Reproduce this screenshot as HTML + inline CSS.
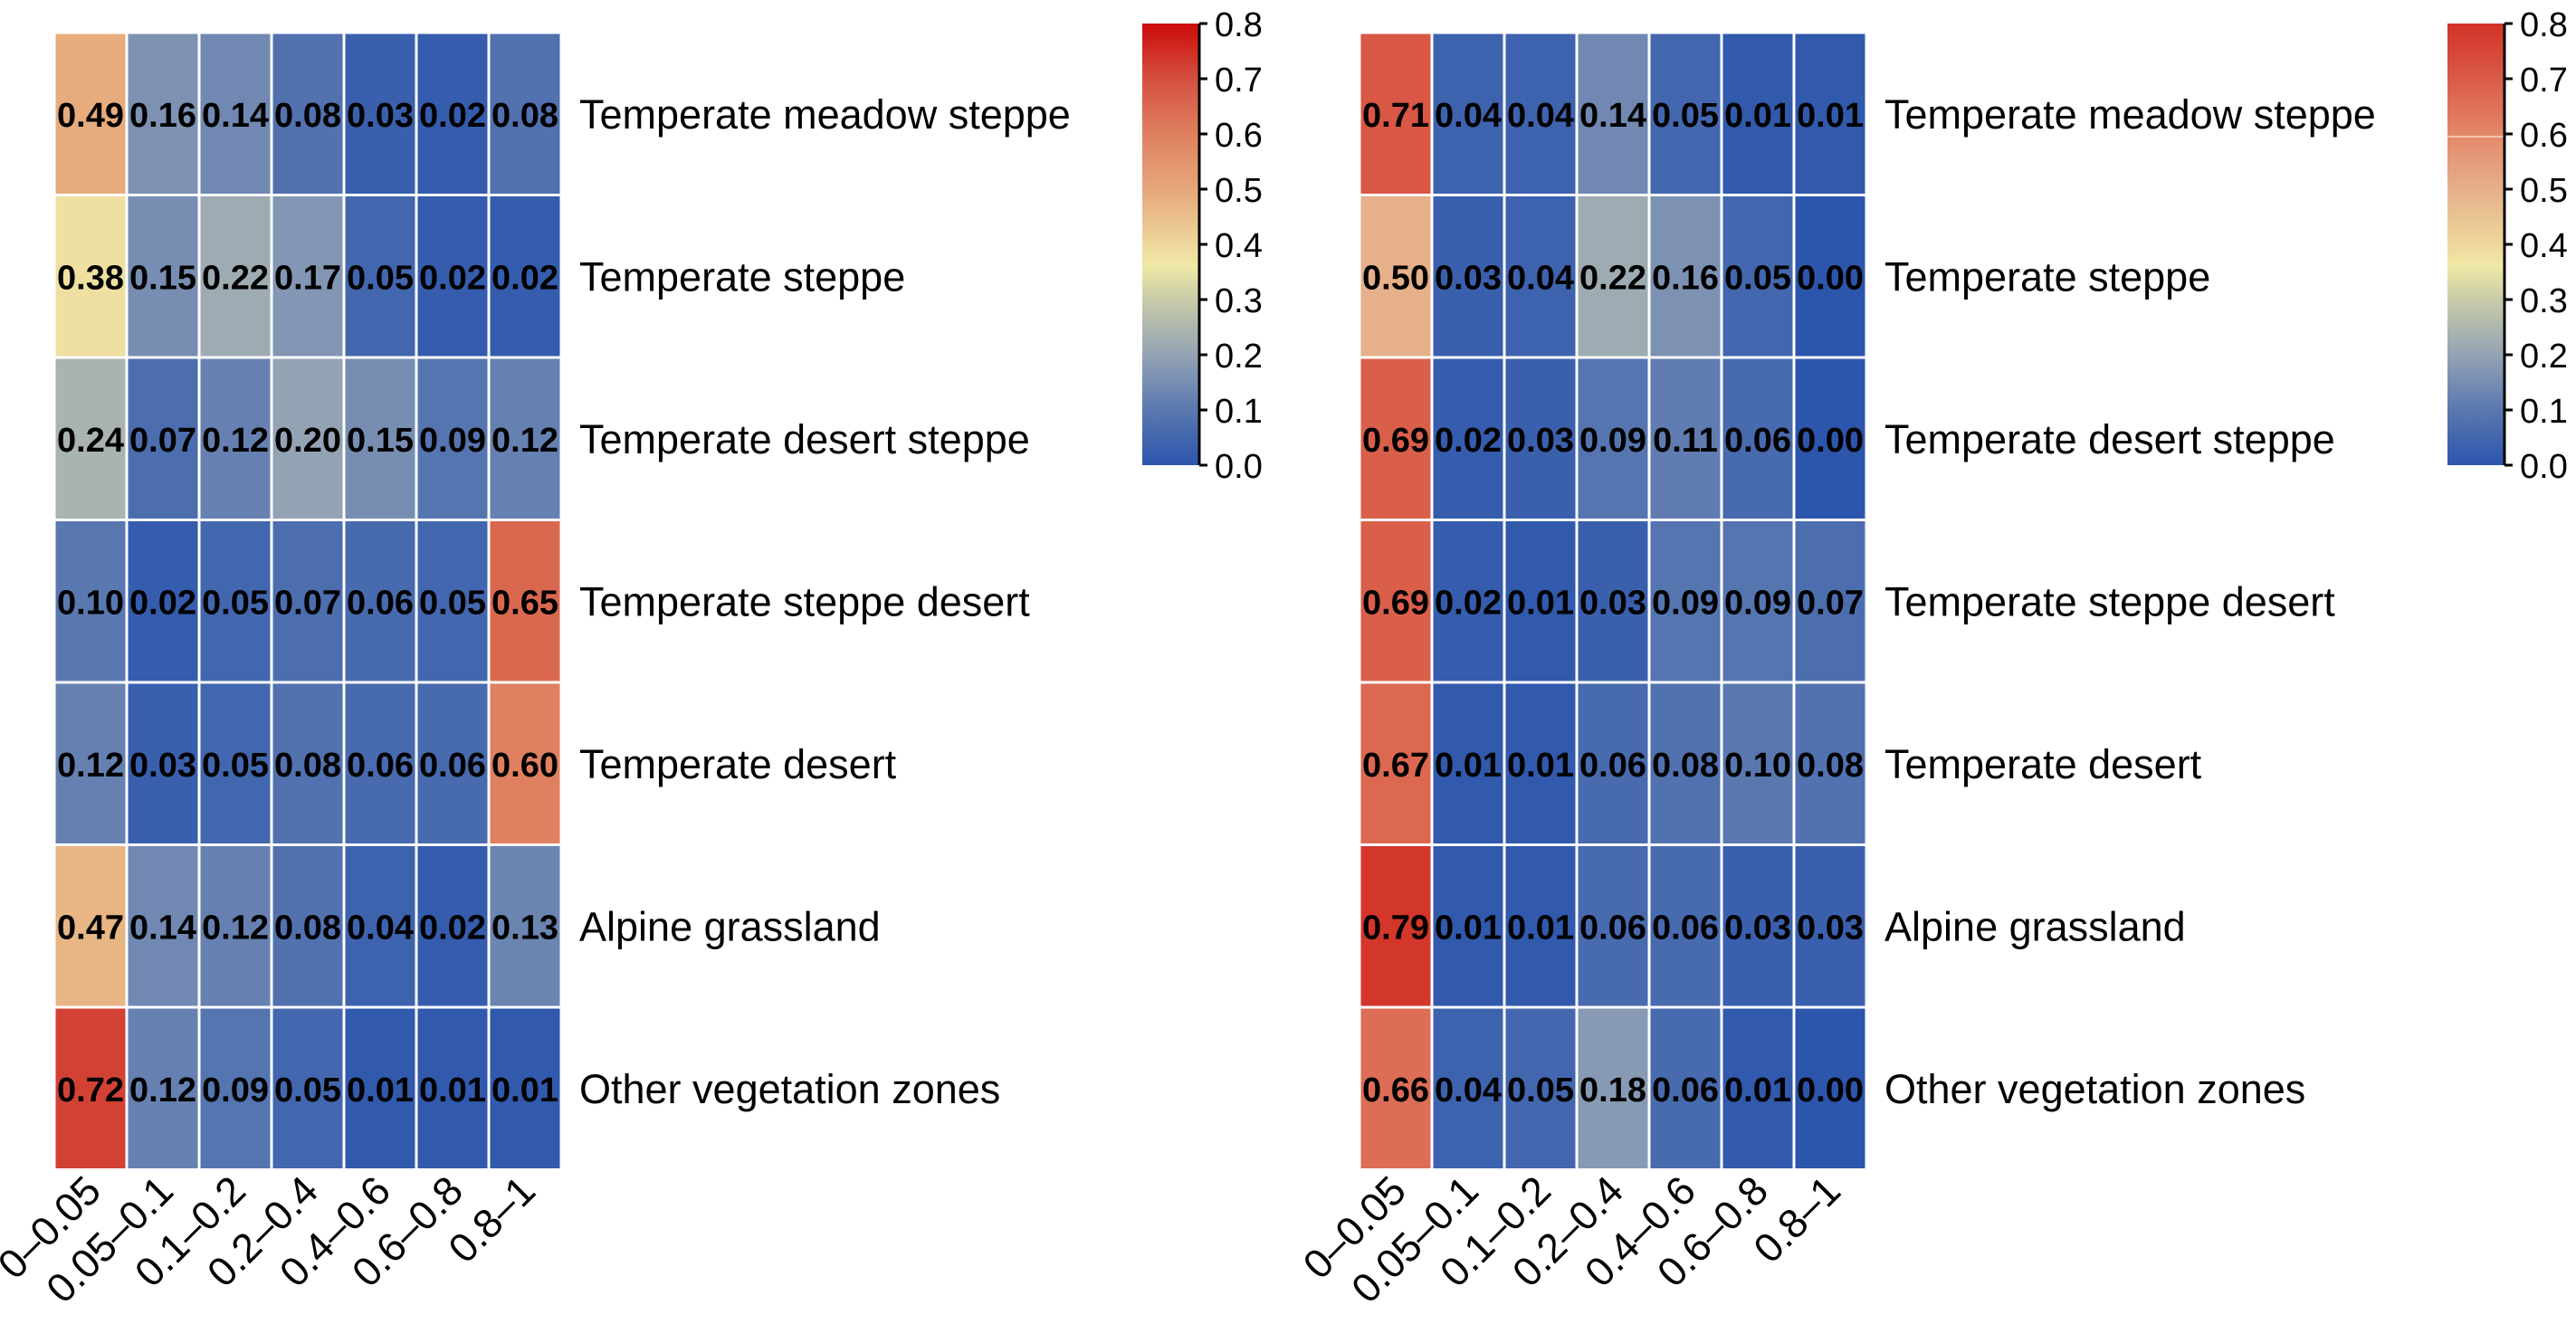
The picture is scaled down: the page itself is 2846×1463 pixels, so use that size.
<!DOCTYPE html>
<html><head><meta charset="utf-8"><style>
html,body{margin:0;padding:0;background:#fff;}
svg{display:block;font-family:"Liberation Sans",Arial,sans-serif;}
</style></head><body>
<svg id="chart" width="2846" height="1463" viewBox="0 0 2846 1463" xmlns="http://www.w3.org/2000/svg">
<defs>
<linearGradient id="cbL" x1="0" y1="1" x2="0" y2="0">
<stop offset="0" stop-color="#2c55ac"/><stop offset="0.125" stop-color="#5a78b0"/><stop offset="0.25" stop-color="#94a3b4"/><stop offset="0.375" stop-color="#c9cba8"/><stop offset="0.45" stop-color="#efe9a6"/><stop offset="0.5" stop-color="#eed79c"/><stop offset="0.625" stop-color="#e6a77b"/><stop offset="0.75" stop-color="#df8060"/><stop offset="0.875" stop-color="#d4503f"/><stop offset="1" stop-color="#cc0a0a"/>
</linearGradient>
<linearGradient id="cbR" x1="0" y1="1" x2="0" y2="0">
<stop offset="0" stop-color="#2c55ac"/><stop offset="0.125" stop-color="#5a78b0"/><stop offset="0.25" stop-color="#94a3b4"/><stop offset="0.375" stop-color="#c9cba8"/><stop offset="0.45" stop-color="#efe9a6"/><stop offset="0.5" stop-color="#eed79c"/><stop offset="0.625" stop-color="#e6b08a"/><stop offset="0.75" stop-color="#e3876a"/><stop offset="0.875" stop-color="#d95b48"/><stop offset="1" stop-color="#d23228"/>
</linearGradient>
</defs>
<g id="root"></g>
</svg>
<script>
const categories = ["0–0.05","0.05–0.1","0.1–0.2","0.2–0.4","0.4–0.6","0.6–0.8","0.8–1"];
const zones = ["Temperate meadow steppe","Temperate steppe","Temperate desert steppe","Temperate steppe desert","Temperate desert","Alpine grassland","Other vegetation zones"];
const leftValues = [
 [0.49,0.16,0.14,0.08,0.03,0.02,0.08],
 [0.38,0.15,0.22,0.17,0.05,0.02,0.02],
 [0.24,0.07,0.12,0.20,0.15,0.09,0.12],
 [0.10,0.02,0.05,0.07,0.06,0.05,0.65],
 [0.12,0.03,0.05,0.08,0.06,0.06,0.60],
 [0.47,0.14,0.12,0.08,0.04,0.02,0.13],
 [0.72,0.12,0.09,0.05,0.01,0.01,0.01]
];
const rightValues = [
 [0.71,0.04,0.04,0.14,0.05,0.01,0.01],
 [0.50,0.03,0.04,0.22,0.16,0.05,0.00],
 [0.69,0.02,0.03,0.09,0.11,0.06,0.00],
 [0.69,0.02,0.01,0.03,0.09,0.09,0.07],
 [0.67,0.01,0.01,0.06,0.08,0.10,0.08],
 [0.79,0.01,0.01,0.06,0.06,0.03,0.03],
 [0.66,0.04,0.05,0.18,0.06,0.01,0.00]
];
const colorbarTicks = [0,0.1,0.2,0.3,0.4,0.5,0.6,0.7,0.8];

const NS="http://www.w3.org/2000/svg";
const root=document.getElementById('root');
const stopsL=[[0,[44,85,172]],[0.1,[90,120,176]],[0.2,[148,163,180]],[0.3,[201,203,168]],[0.36,[239,233,166]],[0.4,[238,215,156]],[0.5,[230,167,123]],[0.6,[223,128,96]],[0.7,[212,80,63]],[0.8,[204,10,10]]];
const stopsR=[[0,[44,85,172]],[0.1,[90,120,176]],[0.2,[148,163,180]],[0.3,[201,203,168]],[0.36,[239,233,166]],[0.4,[238,215,156]],[0.5,[230,176,138]],[0.6,[227,135,106]],[0.7,[217,91,72]],[0.8,[210,50,40]]];
function cmap(v,st){
 if(v<=st[0][0])return 'rgb('+st[0][1].join(',')+')';
 for(let i=1;i<st.length;i++){if(v<=st[i][0]){const a=st[i-1],b=st[i];const t=(v-a[0])/(b[0]-a[0]);
 return 'rgb('+a[1].map((c,k)=>Math.round(c+(b[1][k]-c)*t)).join(',')+')';}}
 return 'rgb('+st[st.length-1][1].join(',')+')';
}
function mk(tag,attrs,parent){const e=document.createElementNS(NS,tag);for(const k in attrs)e.setAttribute(k,attrs[k]);(parent||root).appendChild(e);return e;}

const top0=36, rowH=179.5, colW=80, cbTop=26, cbBot=514, cbW=63;
function xScale(x0,i){return x0+i*colW;}
function yScale(j){return top0+j*rowH;}
function cbY(v){return cbBot-(v/0.8)*(cbBot-cbTop);}

function drawPanel(x0,values,stops,grad,cbX,side){
 const g=mk('g',{});
 
 
 values.forEach((row,j)=>{
  row.forEach((v,i)=>{
   const r=mk('rect',{x:xScale(x0,i),y:yScale(j),width:colW,height:rowH,fill:cmap(v,stops),stroke:'#fff','stroke-width':3},g);
   
   
   const t=mk('text',{x:xScale(x0,i)+colW/2,y:yScale(j)+rowH/2+14,'text-anchor':'middle','font-size':38,'font-weight':'bold',fill:'#000'},g);
   
   
   t.textContent=v.toFixed(2);
  });
  const lb=mk('text',{x:x0+7*colW+20,y:yScale(j)+rowH/2+16,'font-size':45,fill:'#000'},g);
  
  
  lb.textContent=zones[j];
 });
 const bottom=yScale(values.length);
 categories.forEach((c,i)=>{
  const cx=xScale(x0,i)+colW/2+14, cy=bottom+26;
  const t=mk('text',{x:cx,y:cy,'text-anchor':'end','font-size':45,fill:'#000',transform:'rotate(-45 '+cx+' '+cy+')'},g);
  
  
  t.textContent=c;
 });
 const cb=mk('g',{});
 
 
 mk('rect',{x:cbX,y:cbTop,width:cbW,height:cbBot-cbTop,fill:'url(#'+grad+')'},cb);
 if(side==='right'){mk('line',{x1:cbX,x2:cbX+cbW,y1:cbY(0.6)+3,y2:cbY(0.6)+3,stroke:'#f2c3b0','stroke-width':2},cb);}
 mk('line',{x1:cbX+cbW,x2:cbX+cbW,y1:cbTop,y2:cbBot,stroke:'#000','stroke-width':3},cb);
 colorbarTicks.forEach(v=>{
  mk('line',{x1:cbX+cbW,x2:cbX+cbW+9,y1:cbY(v),y2:cbY(v),stroke:'#000','stroke-width':3},cb);
  const t=mk('text',{x:cbX+cbW+17,y:cbY(v)+14,'font-size':38,fill:'#000'},cb);
  
  
  t.textContent=v.toFixed(1);
 });
}
drawPanel(60,leftValues,stopsL,'cbL',1262,'left');
drawPanel(1502,rightValues,stopsR,'cbR',2704,'right');
</script>
</body></html>
